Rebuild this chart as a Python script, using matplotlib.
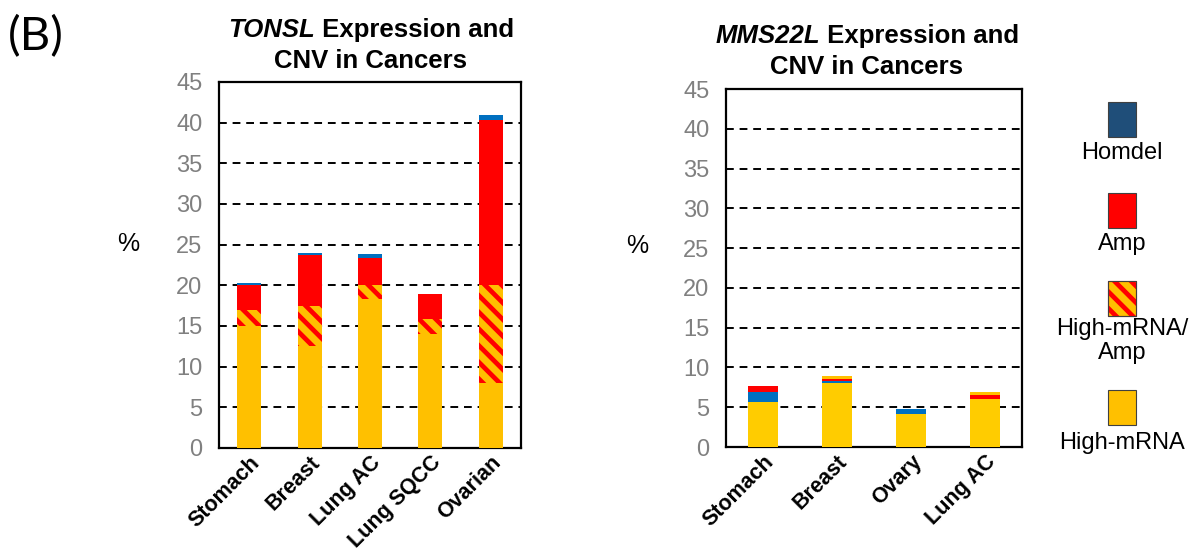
import matplotlib
matplotlib.use("Agg")
import matplotlib.pyplot as plt
from matplotlib.patches import Rectangle
from matplotlib.offsetbox import TextArea, HPacker, AnnotationBbox

plt.rcParams["font.family"] = ["Liberation Sans", "DejaVu Sans"]
plt.rcParams["hatch.linewidth"] = 3.4

# TONSL panel
tonsl_cancers = ["Stomach", "Breast", "Lung AC", "Lung SQCC", "Ovarian"]
tonsl_high_mrna = [15.0, 12.5, 18.3, 14.0, 8.0]
tonsl_high_mrna_amp = [2.0, 5.0, 1.7, 1.8, 12.0]
tonsl_amp = [3.0, 6.2, 3.4, 3.1, 20.3]
tonsl_homdel = [0.3, 0.3, 0.5, 0.0, 0.6]

# MMS22L panel
mms_cancers = ["Stomach", "Breast", "Ovary", "Lung AC"]
mms_high_mrna = [5.6, 8.1, 4.2, 6.0]
mms_homdel = [1.3, 0.2, 0.6, 0.0]
mms_amp = [0.8, 0.25, 0.0, 0.5]
mms_high_mrna_amp = [0.0, 0.35, 0.0, 0.45]

y_ticks = [0, 5, 10, 15, 20, 25, 30, 35, 40, 45]

YELLOW = "#FFC000"
YELLOW2 = "#FFCC00"
RED = "#FF0000"
BLUE = "#0070C0"
NAVY = "#1F4E79"
GRAY = "#808080"

W, H = 1201, 554
fig = plt.figure(figsize=(W / 100, H / 100), dpi=100)


def px_axes(x0, y0, x1, y1):
    return fig.add_axes([x0 / W, 1 - y1 / H, (x1 - x0) / W, (y1 - y0) / H])


def style_axes(ax, cats):
    n = len(cats)
    ax.set_xlim(-0.5, n - 0.5)
    ax.set_ylim(0, 45)
    ax.set_yticks(y_ticks)
    ax.set_yticklabels([str(t) for t in y_ticks], fontsize=17, color=GRAY)
    ax.set_xticks(range(n))
    ax.set_xticklabels(cats, rotation=45, ha="right", rotation_mode="anchor",
                       fontsize=15.5, fontweight="bold")
    ax.tick_params(axis="both", length=0)
    ax.tick_params(axis="y", pad=12)
    ax.tick_params(axis="x", pad=3)
    ax.grid(axis="y", color="black", linestyle=(0, (4, 3)), linewidth=1.4)
    ax.set_axisbelow(True)
    for s in ax.spines.values():
        s.set_linewidth(1.6)
        s.set_color("black")


def stack(ax, x, layers):
    bottom = [0.0] * len(x)
    for vals, kw in layers:
        ax.bar(x, vals, width=0.4, bottom=bottom, zorder=3, **kw)
        bottom = [b + v for b, v in zip(bottom, vals)]


hatch_kw = dict(color=YELLOW, edgecolor=RED, hatch="\\\\", linewidth=0)

# Left panel
ax1 = px_axes(219, 82, 521, 448)
x1 = list(range(len(tonsl_cancers)))
stack(ax1, x1, [
    (tonsl_high_mrna, dict(color=YELLOW, linewidth=0)),
    (tonsl_high_mrna_amp, hatch_kw),
    (tonsl_amp, dict(color=RED, linewidth=0)),
    (tonsl_homdel, dict(color=BLUE, linewidth=0)),
])
style_axes(ax1, tonsl_cancers)

# Right panel
ax2 = px_axes(726, 89, 1022, 447)
x2 = list(range(len(mms_cancers)))
stack(ax2, x2, [
    (mms_high_mrna, dict(color=YELLOW2, linewidth=0)),
    (mms_homdel, dict(color=BLUE, linewidth=0)),
    (mms_amp, dict(color=RED, linewidth=0)),
    (mms_high_mrna_amp, dict(color=YELLOW, linewidth=0)),
])
style_axes(ax2, mms_cancers)

# "%" axis labels
fig.text(128 / W, 1 - 244 / H, "%", fontsize=18, ha="center", va="center")
fig.text(637 / W, 1 - 246 / H, "%", fontsize=18, ha="center", va="center")

# Panel letter
fig.text(8 / W, 1 - 37 / H, "(B)", fontsize=34, ha="left", va="center",
         family=["Lato", "DejaVu Sans"])


def title(gene, cx, y1, y2):
    ta = TextArea(gene, textprops=dict(fontsize=18.5, fontweight="bold",
                                       fontstyle="italic"))
    tb = TextArea(" Expression and", textprops=dict(fontsize=18.5,
                                                     fontweight="bold"))
    box = HPacker(children=[ta, tb], pad=0, sep=0, align="baseline")
    ab = AnnotationBbox(box, (cx, H - y1), xycoords="figure pixels",
                        box_alignment=(0.5, 0.5), frameon=False)
    fig.add_artist(ab)
    fig.text(cx / W, 1 - y2 / H, "CNV in Cancers", fontsize=18.5,
             fontweight="bold", ha="center", va="center")


title("TONSL", 371, 30, 61)
title("MMS22L", 867, 36, 67)

# Legend: swatch above each label
legend_items = [
    ("Homdel", dict(facecolor=NAVY), 102, ["Homdel"], [153]),
    ("Amp", dict(facecolor=RED), 193, ["Amp"], [244]),
    ("High-mRNA/Amp", dict(facecolor=YELLOW, hatch="\\\\"), 281,
     ["High-mRNA/", "Amp"], [329, 353]),
    ("High-mRNA", dict(facecolor=YELLOW), 390, ["High-mRNA"], [443]),
]
for name, kw, top, lines, ys in legend_items:
    edge = RED if "hatch" in kw else "#404040"
    rect = Rectangle((1108 / W, 1 - (top + 35) / H), 28 / W, 35 / H,
                     transform=fig.transFigure, edgecolor=edge,
                     linewidth=0.8, **kw)
    fig.add_artist(rect)
    if "hatch" in kw:
        fig.add_artist(Rectangle((1108 / W, 1 - (top + 35) / H), 28 / W,
                                 35 / H, transform=fig.transFigure,
                                 fill=False, edgecolor="#404040",
                                 linewidth=0.8))
    for line, y in zip(lines, ys):
        fig.text(1122 / W, 1 - y / H, line, fontsize=17, ha="center",
                 va="center")

fig.savefig("out.png", dpi=100)
